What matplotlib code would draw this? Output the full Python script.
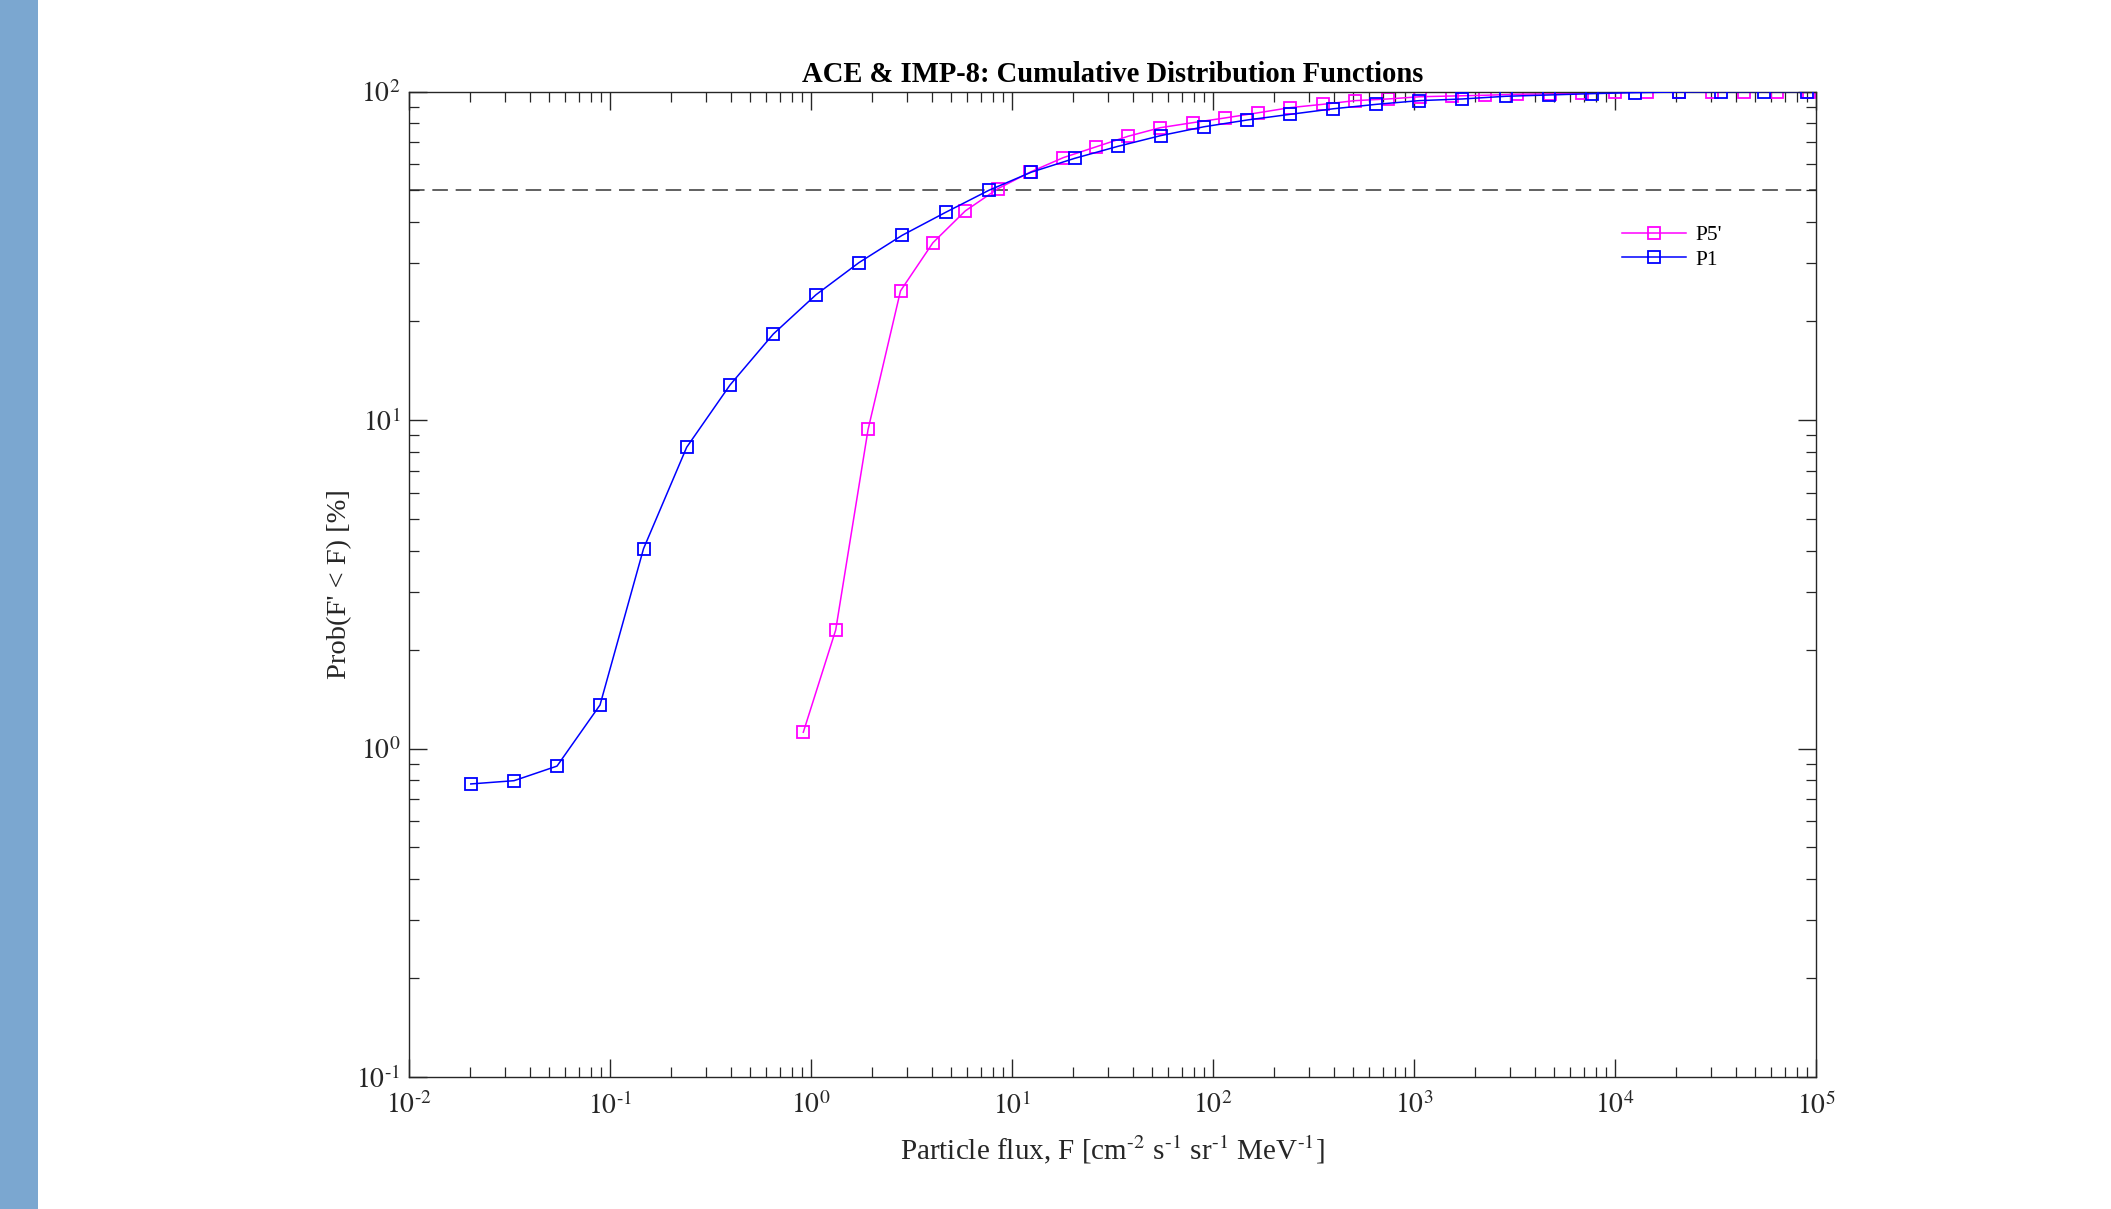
import matplotlib
matplotlib.use("Agg")
import matplotlib.pyplot as plt
from matplotlib.patches import Rectangle
from matplotlib.ticker import LogLocator, NullFormatter, FuncFormatter
import math

plt.rcParams['font.family'] = ['Liberation Serif', 'DejaVu Serif']
plt.rcParams['mathtext.fontset'] = 'stix'

# ---- data ----
p1_flux = [0.0203, 0.0333, 0.0545, 0.0892, 0.1468, 0.2407, 0.3954, 0.6494,
           1.059, 1.733, 2.836, 4.669, 7.686, 12.47, 20.51, 33.69, 54.94,
           90.2, 148.1, 241.6, 396.7, 649.5, 1063, 1739, 2859, 4711, 7659,
           12574, 20748, 33804, 55302, 90500]
p1_prob = [0.78, 0.798, 0.884, 1.357, 4.056, 8.26, 12.78, 18.27, 24.06,
           30.14, 36.47, 42.85, 50.06, 56.8, 62.6, 68.1, 73.4, 78.1, 81.9,
           85.2, 88.6, 91.4, 93.8, 94.9, 96.7, 97.6, 98.5, 99.2, 99.65,
           99.86, 99.9, 100.0]

p5_flux = [0.9157, 1.327, 1.923, 2.788, 4.042, 5.856, 8.49, 12.36, 17.99,
           26.09, 37.90, 54.69, 79.55, 115.1, 166.9, 241.6, 351.4, 508.7,
           740.1, 1071, 1550, 2255, 3265, 4733, 6878, 10000, 14428, 20817,
           30488, 43990, 63975, 92609]
p5_prob = [1.121, 2.295, 9.36, 24.72, 34.65, 43.30, 50.56, 56.9, 62.9,
           67.8, 73.1, 77.6, 80.4, 83.1, 86.1, 89.3, 91.4, 93.8, 94.9, 96.4,
           96.9, 97.4, 98.1, 98.4, 98.9, 99.4, 99.65, 99.65, 99.7, 99.86,
           99.9, 100.0]

median_level = 50
title = "ACE & IMP-8: Cumulative Distribution Functions"
xlabel = r"Particle flux, F [cm$^{\text{-}2}$ s$^{\text{-}1}$ sr$^{\text{-}1}$ MeV$^{\text{-}1}$]"
ylabel = "Prob(F' < F) [%]"

W, H, DPI = 2111, 1209, 100
fig = plt.figure(figsize=(W / DPI, H / DPI), dpi=DPI)
fig.patches.append(Rectangle((0, 0), 38 / W, 1, transform=fig.transFigure,
                             facecolor='#7BA7D0', edgecolor='none', zorder=0))

ax = fig.add_axes([409 / W, 1 - 1077 / H, (1816 - 409) / W, (1077 - 91.5) / H])

ax.axhline(median_level, color='#606060', lw=1.4, ls=(0, (8, 4)), zorder=1)
ax.plot(p5_flux, p5_prob, color='#FF00FF', lw=1.1, marker='s', ms=9,
        mfc='none', mec='#FF00FF', mew=1.3, label="P5'", zorder=2)
ax.plot(p1_flux, p1_prob, color='#0000FF', lw=1.1, marker='s', ms=9,
        mfc='none', mec='#0000FF', mew=1.3, label="P1", zorder=3)

ax.set_xscale('log')
ax.set_yscale('log')
ax.set_xlim(1e-2, 1e5)
ax.set_ylim(1e-1, 1e2)


def pow_fmt(v, pos):
    e = int(round(math.log10(v)))
    s = str(abs(e))
    if e < 0:
        return r"$10^{\text{-}%s}$" % s
    return r"$10^{%s}$" % s


ax.xaxis.set_major_locator(LogLocator(base=10, numticks=20))
ax.xaxis.set_minor_locator(LogLocator(base=10, subs=range(2, 10), numticks=100))
ax.yaxis.set_major_locator(LogLocator(base=10, numticks=20))
ax.yaxis.set_minor_locator(LogLocator(base=10, subs=range(2, 10), numticks=100))
ax.xaxis.set_major_formatter(FuncFormatter(pow_fmt))
ax.yaxis.set_major_formatter(FuncFormatter(pow_fmt))
ax.xaxis.set_minor_formatter(NullFormatter())
ax.yaxis.set_minor_formatter(NullFormatter())

ax.tick_params(which='both', direction='in', top=True, right=True,
               color='#262626', labelsize=20, labelcolor='#262626')
ax.tick_params(which='major', length=13, width=1.0)
ax.tick_params(which='minor', length=7, width=0.9)
ax.tick_params(axis='x', which='major', pad=11)
ax.tick_params(axis='y', which='major', pad=6)
for s in ax.spines.values():
    s.set_color('#262626')
    s.set_linewidth(1.0)

ax.set_title(title, fontsize=20.6, fontweight='bold', pad=7, color='black')
ax.set_xlabel(xlabel, fontsize=21, color='#262626', labelpad=10)
ax.set_ylabel(ylabel, fontsize=20.5, color='#262626', labelpad=3)

leg = ax.legend(loc='upper left', bbox_to_anchor=(0.848, 0.884), frameon=False,
                fontsize=15.5, handlelength=3.0, labelspacing=0.2,
                handletextpad=0.45)

fig.savefig('out.png', dpi=DPI)
